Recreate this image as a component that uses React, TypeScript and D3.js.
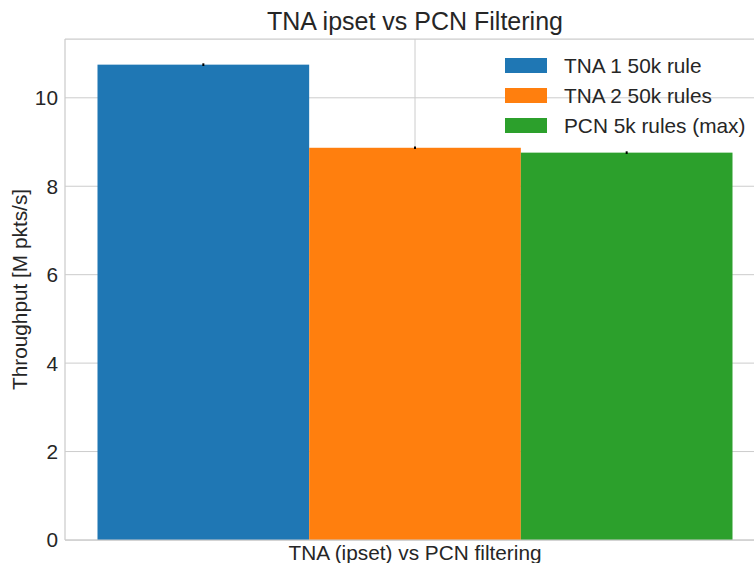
import React from "react";
import * as d3 from "d3";

const series = ["TNA 1 50k rule", "TNA 2 50k rules", "PCN 5k rules (max)"];
const values = [10.75, 8.87, 8.76];
const errors = [0.03, 0.03, 0.03];
const colors = ["#1f77b4", "#ff7f0e", "#2ca02c"];
const yTicks = [0, 2, 4, 6, 8, 10];
const category = "TNA (ipset) vs PCN filtering";

export default function App() {
  const W = 754, H = 563;
  const left = 65, right = 765, top = 39, bottom = 540;
  const y = d3.scaleLinear().domain([0, 11.33]).range([bottom, top]);
  const cx = (left + right) / 2;
  const groupW = 635;
  const x = d3.scaleBand().domain(series).range([cx - groupW / 2, cx + groupW / 2]).padding(0);
  const font = "'Liberation Sans', Arial, sans-serif";
  const txt = "#262626";
  const fs = 20.8;
  return (
    <svg width={W} height={H} style={{ position: "absolute", left: 0, top: 0 }} fontFamily={font}>
      <rect width={W} height={H} fill="#fff" />
      {yTicks.map((t) => (
        <line key={t} x1={left} x2={right} y1={y(t)} y2={y(t)} stroke="#cccccc" strokeWidth={1} />
      ))}
      <line x1={cx} x2={cx} y1={top} y2={bottom} stroke="#cccccc" strokeWidth={1} />
      {series.map((s, i) => (
        <rect key={s} x={x(s)} y={y(values[i])} width={x.bandwidth()} height={bottom - y(values[i])} fill={colors[i]} />
      ))}
      {series.map((s, i) => (
        <line key={s + "e"} x1={x(s)! + x.bandwidth() / 2} x2={x(s)! + x.bandwidth() / 2}
          y1={y(values[i] + errors[i])} y2={y(values[i] - errors[i])} stroke="#000" strokeWidth={2} />
      ))}
      <line x1={left} x2={left} y1={top} y2={bottom} stroke="#cccccc" strokeWidth={1.25} />
      <line x1={left} x2={right} y1={bottom} y2={bottom} stroke="#cccccc" strokeWidth={1.25} />
      <line x1={left} x2={right} y1={top} y2={top} stroke="#cccccc" strokeWidth={1.25} />
      {yTicks.map((t) => (
        <text key={"l" + t} x={58} y={y(t)} dy="0.36em" textAnchor="end" fontSize={fs} fill={txt}>{t}</text>
      ))}
      <text x={cx} y={560} textAnchor="middle" fontSize={fs} fill={txt}>{category}</text>
      <text transform={`translate(27,${(top + bottom) / 2 - 0}) rotate(-90)`} textAnchor="middle" fontSize={fs} fill={txt}>Throughput [M pkts/s]</text>
      <text x={cx} y={30} textAnchor="middle" fontSize={25} fill={txt}>TNA ipset vs PCN Filtering</text>
      {series.map((s, i) => (
        <g key={"lg" + s} transform={`translate(505,${58 + i * 30})`}>
          <rect x={0} y={0} width={42} height={15} fill={colors[i]} />
          <text x={59} y={15} fontSize={fs} fill={txt}>{s}</text>
        </g>
      ))}
    </svg>
  );
}
